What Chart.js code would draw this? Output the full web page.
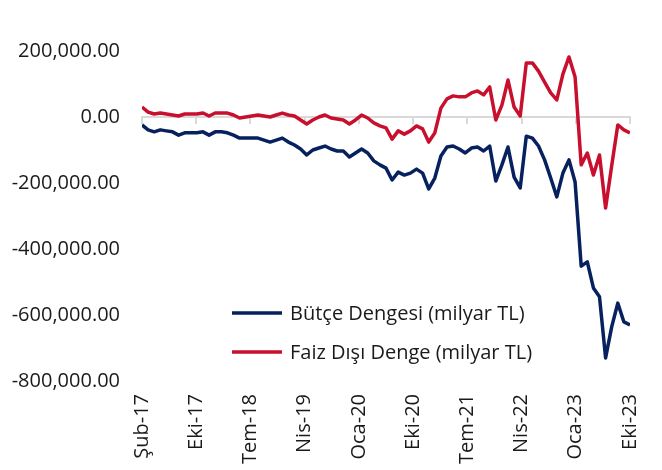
<!DOCTYPE html>
<html>
<head>
<meta charset="utf-8">
<script src="https://cdn.jsdelivr.net/npm/chart.js@4.4.0/dist/chart.umd.min.js"></script>
<style>
  body { margin: 0; background: #fff; }
  #wrap { width: 662px; height: 470px; }
</style>
</head>
<body>
<div id="wrap"><canvas id="myChart" width="662" height="470"></canvas></div>
<script>
// monthly series, Şub-17 .. Eki-23
var trMonths = ['Oca', 'Şub', 'Mar', 'Nis', 'May', 'Haz', 'Tem', 'Ağu', 'Eyl', 'Eki', 'Kas', 'Ara'];
var months = [];
for (let y = 17; y <= 23; y++) {
  for (let m = 0; m < 12; m++) {
    if (y === 17 && m < 1) continue;
    if (y === 23 && m > 9) continue;
    months.push(trMonths[m] + '-' + y);
  }
}

var tickLabels = ['Şub-17', 'Eki-17', 'Tem-18', 'Nis-19', 'Oca-20', 'Eki-20', 'Tem-21', 'Nis-22', 'Oca-23', 'Eki-23'];

var butceDengesi = [
  -24000, -39000, -45000, -39000, -42000, -45000, -55000, -48000, -48000, -48000,
  -45000, -55000, -45000, -45000, -48000, -55000, -64000, -64000, -64000, -64000,
  -70000, -76000, -70000, -64000, -76000, -85000, -97000, -115000, -100000, -94000,
  -88000, -97000, -103000, -103000, -121000, -109000, -97000, -109000, -133000, -145000,
  -155000, -191000, -167000, -176000, -170000, -158000, -170000, -218000, -185000, -118000,
  -91000, -88000, -97000, -109000, -94000, -91000, -103000, -88000, -194000, -145000,
  -91000, -182000, -215000, -58000, -64000, -88000, -130000, -185000, -242000, -170000,
  -130000, -197000, -452000, -439000, -518000, -545000, -730000, -636000, -564000, -621000,
  -630000
];

var faizDisiDenge = [
  30000, 15000, 9000, 12000, 9000, 6000, 3000, 9000, 9000, 9000,
  12000, 3000, 12000, 12000, 12000, 6000, -3000, 0, 3000, 6000,
  3000, 0, 6000, 12000, 6000, 3000, -9000, -21000, -9000, 0,
  6000, -3000, -6000, -9000, -21000, -9000, 6000, -3000, -18000, -27000,
  -33000, -67000, -42000, -52000, -42000, -27000, -36000, -76000, -48000, 27000,
  55000, 64000, 61000, 61000, 73000, 79000, 67000, 91000, -9000, 36000,
  112000, 30000, 3000, 164000, 164000, 139000, 106000, 73000, 52000, 130000,
  182000, 121000, -145000, -109000, -176000, -115000, -276000, -148000, -24000, -39000,
  -48000
];

var FONT = 'Open Sans';
var TXT = '#1a1a1a';
var lastIdx = months.length - 1;

function spreadTicks(scale) {
  scale.ticks = tickLabels.map(function (t, k) {
    return { value: k * lastIdx / (tickLabels.length - 1) };
  });
}

// legend drawn inside the plot, like the original
var insideLegend = {
  id: 'insideLegend',
  afterDraw: function (chart) {
    var c = chart.ctx;
    c.save();
    c.font = '20px "' + FONT + '"';
    c.textBaseline = 'middle';
    c.fillStyle = TXT;
    chart.data.datasets.forEach(function (ds, i) {
      var y = 313 + i * 39;
      c.strokeStyle = ds.borderColor;
      c.lineWidth = 3.5;
      c.beginPath();
      c.moveTo(232, y);
      c.lineTo(282, y);
      c.stroke();
      c.fillText(ds.label, 290, y + 1);
    });
    c.restore();
  }
};

var ctx = document.getElementById('myChart').getContext('2d');
var chart = new Chart(ctx, {
  type: 'line',
  data: {
    datasets: [{
      label: 'Bütçe Dengesi (milyar TL)',
      data: butceDengesi.map(function (v, i) { return { x: i, y: v }; }),
      borderColor: '#06215e',
      borderWidth: 3.5,
      pointRadius: 0,
      tension: 0,
      borderJoinStyle: 'round'
    }, {
      label: 'Faiz Dışı Denge (milyar TL)',
      data: faizDisiDenge.map(function (v, i) { return { x: i, y: v }; }),
      borderColor: '#c8102e',
      borderWidth: 3.5,
      pointRadius: 0,
      tension: 0,
      borderJoinStyle: 'round'
    }]
  },
  options: {
    responsive: false,
    animation: false,
    layout: { padding: { top: 51, right: 32, left: 0, bottom: 0 } },
    plugins: { legend: { display: false }, tooltip: { enabled: false } },
    scales: {
      x: {
        type: 'linear',
        min: 0,
        max: lastIdx,
        afterBuildTicks: spreadTicks,
        afterFit: function (scale) { scale.height = 89; },
        grid: { display: false },
        border: { display: false },
        ticks: {
          autoSkip: false,
          maxRotation: 90,
          minRotation: 90,
          padding: 5,
          color: TXT,
          font: { family: FONT, size: 20 },
          callback: function (v, i) { return tickLabels[i]; }
        }
      },
      x0: {
        type: 'linear',
        min: 0,
        max: lastIdx,
        position: { y: 0 },
        afterBuildTicks: spreadTicks,
        grid: { drawOnChartArea: false, drawTicks: true, tickLength: 6, color: '#d9d9d9', lineWidth: 2 },
        border: { display: true, color: '#d9d9d9', width: 2 },
        ticks: { display: false }
      },
      y: {
        min: -800000,
        max: 200000,
        afterFit: function (scale) { scale.width = 142; },
        grid: { display: false, drawTicks: false },
        border: { display: false },
        ticks: {
          stepSize: 200000,
          padding: 22,
          color: TXT,
          font: { family: FONT, size: 20 },
          callback: function (v) {
            return v.toLocaleString('en-US', { minimumFractionDigits: 2, maximumFractionDigits: 2 });
          }
        }
      }
    }
  },
  plugins: [insideLegend]
});
</script>
</body>
</html>
